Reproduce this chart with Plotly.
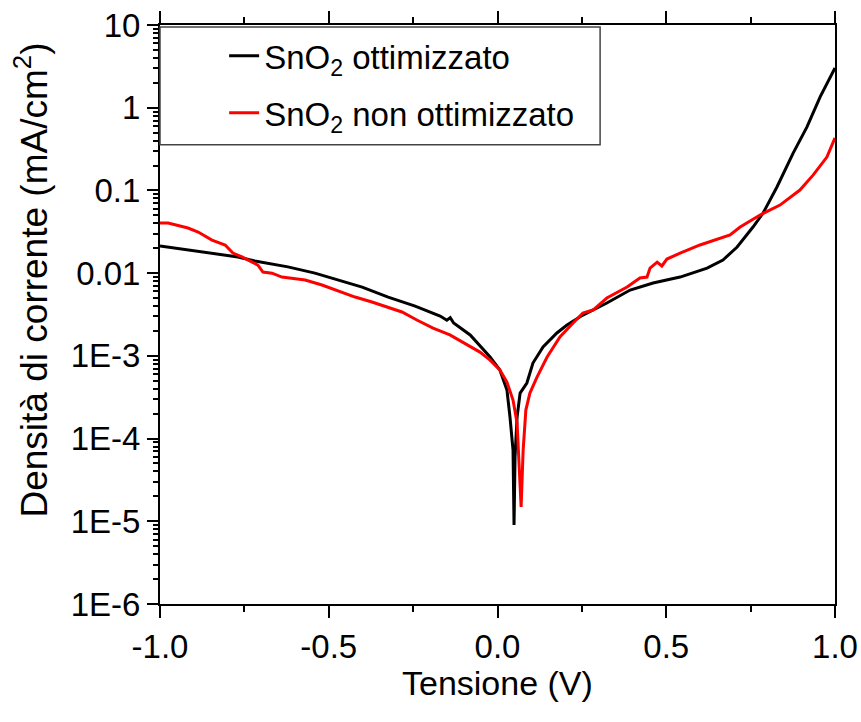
import plotly.graph_objects as go

# --- data ---
v_opt = [-1.000, -0.917, -0.846, -0.769, -0.719, -0.621, -0.541, -0.473, -0.401, -0.324,
         -0.244, -0.170, -0.150, -0.140, -0.130, -0.081, -0.022, 0.007, 0.028, 0.037,
         0.046, 0.049, 0.052, 0.058, 0.067, 0.087, 0.105, 0.135, 0.176, 0.206,
         0.253, 0.324, 0.393, 0.461, 0.541, 0.621, 0.668, 0.710, 0.757, 0.787,
         0.828, 0.876, 0.917, 0.956, 1.000]
j_opt = [0.0213, 0.0190, 0.0175, 0.0157, 0.0140, 0.0119, 0.0100, 0.00826, 0.00679, 0.00514,
         0.00400, 0.00303, 0.00270, 0.00290, 0.00250, 0.00179, 0.000968, 0.000674, 0.000386, 0.000182,
         7.26e-5, 9.0e-6, 6.0e-5, 0.000182, 0.000355, 0.000469, 0.000818, 0.00128, 0.00189, 0.00236,
         0.00311, 0.00435, 0.00625, 0.00759, 0.00897, 0.0115, 0.0144, 0.0207, 0.0361, 0.0533,
         0.110, 0.283, 0.585, 1.35, 3.02]

v_non = [-1.000, -0.976, -0.917, -0.887, -0.846, -0.807, -0.784, -0.757, -0.727, -0.710,
         -0.695, -0.668, -0.639, -0.570, -0.520, -0.481, -0.422, -0.372, -0.324, -0.283,
         -0.239, -0.191, -0.141, -0.090, -0.052, -0.022, 0.007, 0.028, 0.046, 0.058,
         0.064, 0.070, 0.076, 0.084, 0.096, 0.117, 0.147, 0.185, 0.224, 0.253,
         0.283, 0.324, 0.384, 0.422, 0.443, 0.452, 0.473, 0.487, 0.502, 0.541,
         0.600, 0.650, 0.689, 0.719, 0.778, 0.837, 0.896, 0.935, 0.976, 1.000]
j_non = [0.0404, 0.0404, 0.0351, 0.0314, 0.0251, 0.0219, 0.0175, 0.0157, 0.0136, 0.0125,
         0.0103, 0.0100, 0.00897, 0.00826, 0.00718, 0.00625, 0.00514, 0.00448, 0.00389, 0.00339,
         0.00271, 0.00217, 0.00179, 0.00135, 0.00111, 0.000889, 0.000674, 0.000482, 0.000292, 0.000154,
         4.52e-5, 1.49e-5, 7.26e-5, 0.000221, 0.000355, 0.000554, 0.000967, 0.00169, 0.00249, 0.00330,
         0.00358, 0.00500, 0.00679, 0.00873, 0.00897, 0.0115, 0.0136, 0.0122, 0.0148, 0.0175,
         0.0219, 0.0258, 0.0289, 0.0361, 0.0505, 0.0665, 0.101, 0.153, 0.253, 0.431]

y_tickvals = [10, 1, 0.1, 0.01, 1e-3, 1e-4, 1e-5, 1e-6]
y_ticktext = ["10", "1", "0.1", "0.01", "1E-3", "1E-4", "1E-5", "1E-6"]
x_tickvals = [-1.0, -0.5, 0.0, 0.5, 1.0]
x_ticktext = ["-1.0", "-0.5", "0.0", "0.5", "1.0"]
x_minor_vals = [-0.75, -0.25, 0.25, 0.75]

# minor tick positions on the log axis (2..9 within each decade)
y_minor_vals = [m * 10.0 ** e for e in range(-6, 1) for m in range(2, 10)]

FONT = "Liberation Sans, Arial, sans-serif"

fig = go.Figure()
fig.add_trace(go.Scatter(x=v_opt, y=j_opt, mode="lines", name="SnO<sub>2</sub> ottimizzato",
                         line=dict(color="black", width=3), legendgroup="a"))
fig.add_trace(go.Scatter(x=v_non, y=j_non, mode="lines", name="SnO<sub>2</sub> non ottimizzato",
                         line=dict(color="#ff0000", width=3), legendgroup="b"))

fig.update_layout(
    width=861, height=722,
    margin=dict(l=160, r=26, t=25, b=118, autoexpand=False),
    paper_bgcolor="white", plot_bgcolor="white",
    font=dict(family=FONT, size=33, color="black"),
    showlegend=True,
    legend=dict(x=0.095, y=0.995, xanchor="left", yanchor="top",
                bgcolor="rgba(0,0,0,0)", borderwidth=0,
                font=dict(size=33), tracegroupgap=11),
    xaxis=dict(range=[-1, 1], tickmode="array", tickvals=x_tickvals, ticktext=x_ticktext,
               ticks="outside", ticklen=12, tickwidth=2, tickcolor="black",
               showline=True, linecolor="black", linewidth=2, mirror="ticks",
               showgrid=False, zeroline=False, automargin=False,
               minor=dict(tickmode="array", tickvals=x_minor_vals, ticks="outside",
                          ticklen=6, tickwidth=2, tickcolor="black", showgrid=False)),
    yaxis=dict(type="log", range=[-6, 1], tickmode="array", tickvals=y_tickvals, ticktext=y_ticktext,
               ticks="outside", ticklen=11, tickwidth=2, tickcolor="black",
               showline=True, linecolor="black", linewidth=2, mirror=True,
               showgrid=False, zeroline=False, automargin=False,
               minor=dict(tickmode="array", tickvals=y_minor_vals, ticks="outside",
                          ticklen=5, tickwidth=1.5, tickcolor="black", showgrid=False)),
    shapes=[dict(type="rect", xref="paper", yref="paper",
                 x0=0, x1=0.652, y0=0.793, y1=0.9965,
                 line=dict(color="#444444", width=1.5), fillcolor="rgba(0,0,0,0)")],
    annotations=[
        dict(text="Densità di corrente (mA/cm<sup>2</sup>)", textangle=-90,
             xref="paper", yref="paper", x=-0.19, y=0.56, xanchor="center", yanchor="middle",
             showarrow=False, font=dict(size=37)),
        dict(text="Tensione (V)", xref="paper", yref="paper", x=0.5, y=-0.137,
             xanchor="center", yanchor="middle", showarrow=False, font=dict(size=34)),
    ],
)

fig.write_html("out.html")
